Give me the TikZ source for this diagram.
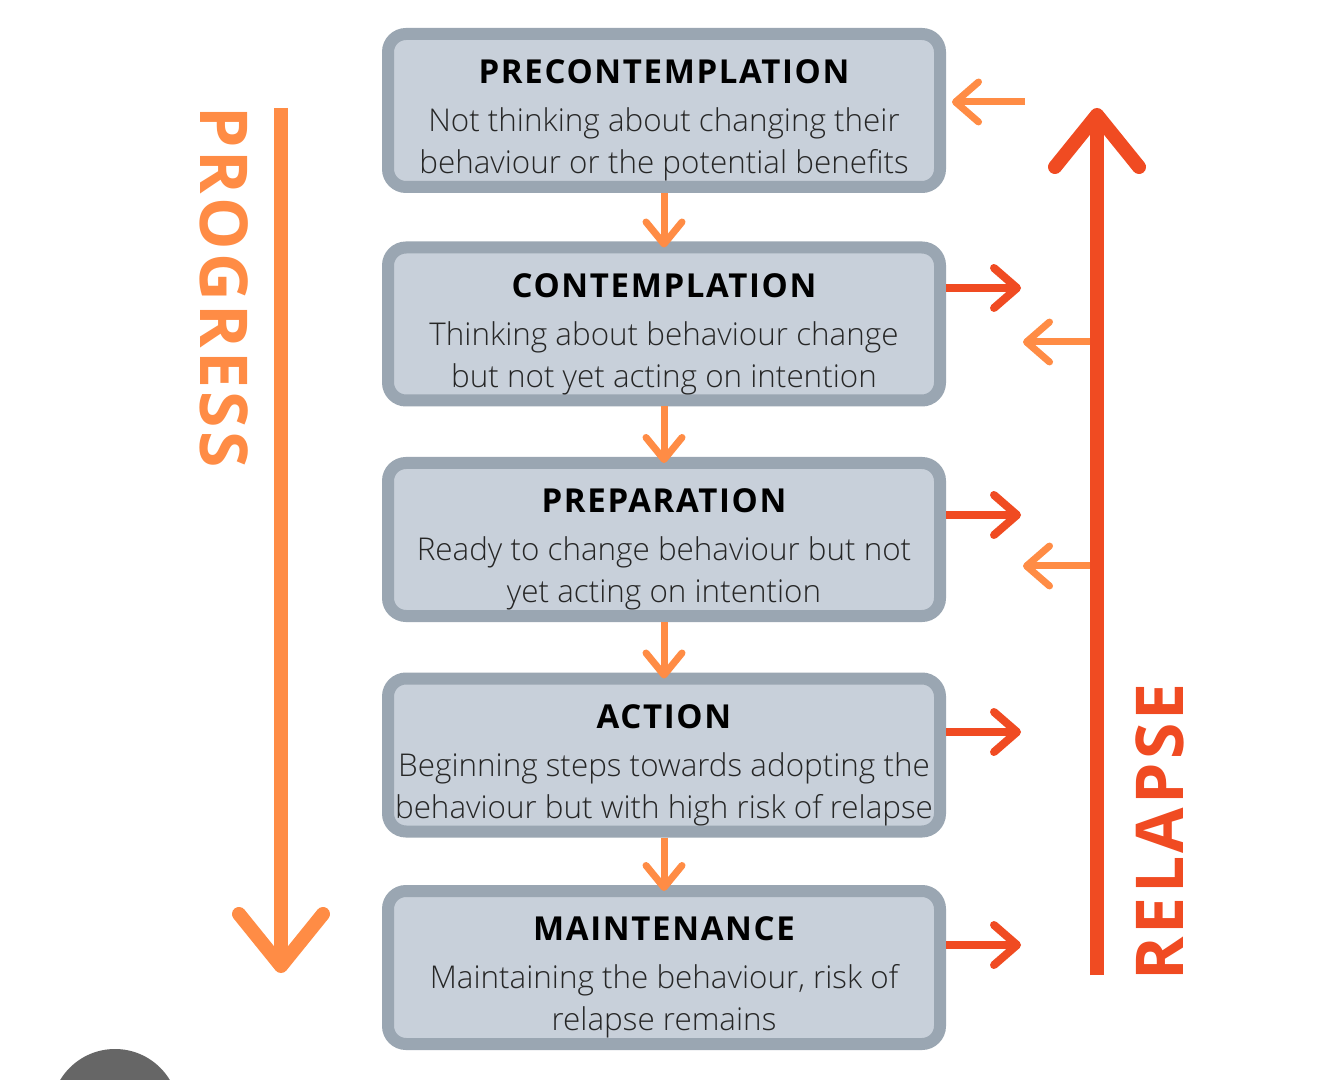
\documentclass[tikz,border=0pt]{standalone}
\usepackage{fontspec}
\setmainfont{Open Sans}
\IfFontExistsTF{Open Sans Light}{\setmainfont{Open Sans Light}}{}
\newfontfamily\headfont[LetterSpace=5]{Open Sans}
\IfFontExistsTF{Open Sans ExtraBold}{\newfontfamily\headfont[LetterSpace=4]{Open Sans ExtraBold}}{}
\usetikzlibrary{arrows.meta,positioning}
\definecolor{boxfill}{HTML}{C8D0DA}
\definecolor{boxline}{HTML}{9AA6B2}
\definecolor{progress}{HTML}{FF8C45}
\definecolor{relapse}{HTML}{F04B22}
\definecolor{dot}{HTML}{666666}
\newcommand{\stagehead}[1]{{\color{black}\headfont\bfseries\fontsize{16.5}{20}\selectfont\rule{0pt}{22pt}#1}}

\begin{document}
\begin{tikzpicture}[x=0.5pt,y=-0.5pt,
    stage/.style={draw=boxline, fill=boxfill, line width=6pt, rounded corners=9pt,
        minimum width=276pt, minimum height=76.5pt, inner sep=0pt, align=center,
        text=black!85, font=\fontsize{15.7}{21}\selectfont},
    down/.style={progress, line width=3.5pt, -{Straight Barb[round,length=11pt,width=18pt]}},
    fall/.style={relapse, line width=4pt, -{Straight Barb[round,length=11.5pt,width=20pt]}},
    back/.style={progress, line width=3.5pt, -{Straight Barb[round,length=11.5pt,width=20pt]}},
    big/.style={line width=7pt, -{Straight Barb[round,length=26pt,width=42pt]}},
    side/.style={font=\headfont\bfseries\fontsize{33}{33}\selectfont}]
    \useasboundingbox (0,0) rectangle (1334,1080);
    \fill[white] (0,0) rectangle (1334,1080);

    % stages
    \node[stage] (pre) at (664,110.5) {\stagehead{PRECONTEMPLATION}\\[3pt]
        Not thinking about changing their\\ behaviour or the potential benefits};
    \node[stage] (con) at (664,324) {\stagehead{CONTEMPLATION}\\[3pt]
        Thinking about behaviour change\\ but not yet acting on intention};
    \node[stage] (prep) at (664,539.5) {\stagehead{PREPARATION}\\[3pt]
        Ready to change behaviour but not\\ yet acting on intention};
    \node[stage] (act) at (664,755) {\stagehead{ACTION}\\[3pt]
        Beginning steps towards adopting the\\ behaviour but with high risk of relapse};
    \node[stage] (main) at (664,967.5) {\stagehead{MAINTENANCE}\\[3pt]
        Maintaining the behaviour, risk of\\ relapse remains};

    \draw[down, shorten >=-3pt] (pre) -- (con);
    \draw[down, shorten >=-3pt] (con) -- (prep);
    \draw[down, shorten >=-3pt] (prep) -- (act);
    \draw[down, shorten >=-3pt] (act) -- (main);

    % progress
    \coordinate (progTop) at (281,108);
    \coordinate (progBot) at (281,973);
    \draw[big, progress] (progTop) -- (progBot);
    \node[side, progress, rotate=-90] (progLbl) at (224,287) {PROGRESS};

    % relapse
    \coordinate (relBot) at (1097,975);
    \coordinate (relTop) at (1097,108);
    \draw[big, relapse] (relBot) -- (relTop);
    \node[side, relapse, rotate=90] (relLbl) at (1160,832) {RELAPSE};

    \coordinate (conOut) at (1021,288);
    \coordinate (prepOut) at (1021,515);
    \coordinate (actOut) at (1021,732);
    \coordinate (mainOut) at (1021,945);
    \draw[fall] (con.east |- conOut) -- (conOut);
    \draw[fall] (prep.east |- prepOut) -- (prepOut);
    \draw[fall] (act.east |- actOut) -- (actOut);
    \draw[fall] (main.east |- mainOut) -- (mainOut);

    \coordinate (preIn) at (1025,102);
    \coordinate (conIn) at (1090,342);
    \coordinate (prepIn) at (1090,566);
    \draw[back, shorten >=3pt] (preIn) -- (pre.east |- preIn);
    \draw[back] (conIn) -- +(-67,0) coordinate (conTip);
    \draw[back] (prepIn) -- +(-67,0) coordinate (prepTip);

    \fill[dot] (115,1113) circle (64);
\end{tikzpicture}
\end{document}
